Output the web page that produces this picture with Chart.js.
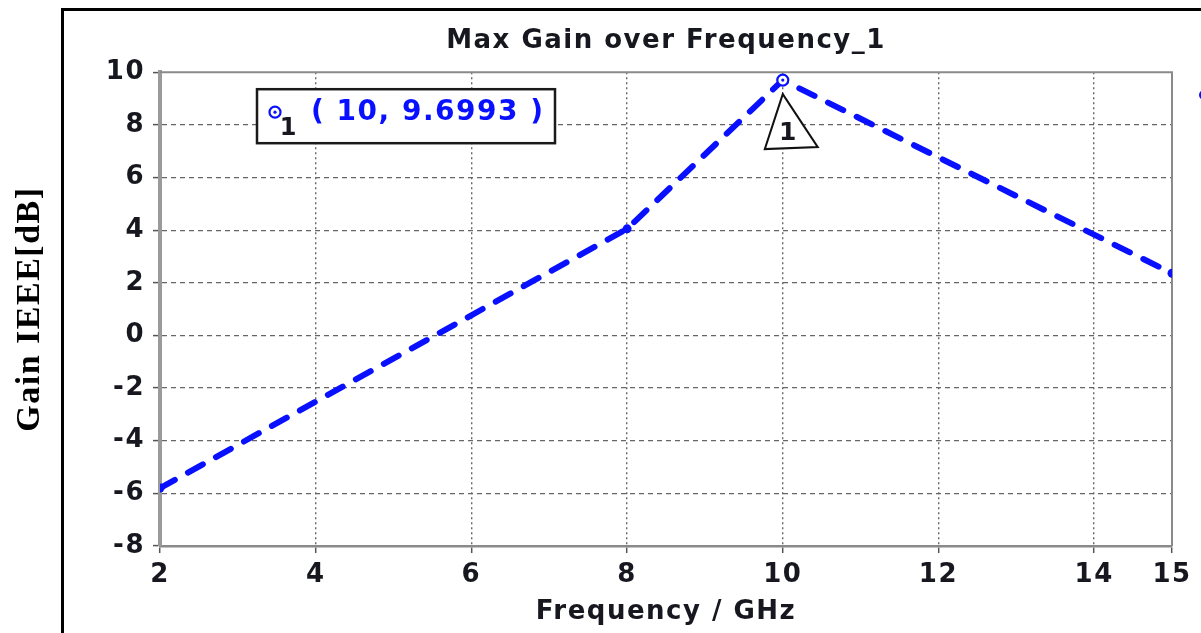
<!DOCTYPE html>
<html>
<head>
<meta charset="utf-8">
<script src="https://cdn.jsdelivr.net/npm/chart.js@4.4.1/dist/chart.umd.min.js"></script>
<style>
  html, body { margin: 0; padding: 0; background: #fff; overflow: hidden; }
  canvas { display: block; }
</style>
</head>
<body>
<canvas id="gainChart" width="1201" height="633"></canvas>
<script>
// Max gain vs. frequency
const frequencies = [2, 8, 10, 15];            // GHz
const gainDb = [-5.8, 4.05, 9.6993, 2.36];    // dB
const xTickValues = [2, 4, 6, 8, 10, 12, 14, 15];
const yTickMin = -8;
const yTickMax = 10;
const yTickStep = 2;
const markerIndex = 2;                          // marker "1" placed on the peak
const markerName = '1';

const UI_FONT = "'DejaVu Sans', Verdana, sans-serif";
const BLUE = 'rgb(8, 16, 255)';
const INK = '#17171f';
const TRACKING = '1.5px';                       // slightly wide lettering of the plot texts

function markerLabel() {
  return '( ' + frequencies[markerIndex] + ', ' + gainDb[markerIndex] + ' )';
}

function drawRingMarker(ctx, cx, cy) {
  ctx.save();
  ctx.fillStyle = '#fff';
  ctx.strokeStyle = BLUE;
  ctx.lineWidth = 2.2;
  ctx.beginPath();
  ctx.arc(cx, cy, 5.5, 0, Math.PI * 2);
  ctx.fill();
  ctx.stroke();
  ctx.fillStyle = BLUE;
  ctx.beginPath();
  ctx.arc(cx, cy, 1.6, 0, Math.PI * 2);
  ctx.fill();
  ctx.restore();
}

const decorations = {
  id: 'decorations',
  beforeLayout(chart) {
    chart.ctx.letterSpacing = TRACKING;
  },
  beforeDraw(chart) {
    const ctx = chart.ctx;
    ctx.letterSpacing = TRACKING;
    ctx.save();
    ctx.fillStyle = '#fff';
    ctx.fillRect(0, 0, chart.width, chart.height);
    // figure frame (left and top edges visible)
    ctx.strokeStyle = '#000';
    ctx.lineWidth = 3;
    ctx.beginPath();
    ctx.moveTo(62.5, chart.height + 5);
    ctx.lineTo(62.5, 9.5);
    ctx.lineTo(chart.width + 5, 9.5);
    ctx.stroke();
    ctx.restore();
  },
  beforeDatasetsDraw(chart) {
    const {ctx, chartArea: a} = chart;
    ctx.save();
    ctx.strokeStyle = '#8a8a8a';
    ctx.lineWidth = 2;
    ctx.beginPath();
    ctx.moveTo(a.left, a.top);
    ctx.lineTo(a.right, a.top);
    ctx.lineTo(a.right, a.bottom);
    ctx.stroke();
    ctx.restore();
  },
  afterDatasetsDraw(chart) {
    const {ctx, chartArea: a, scales: {x, y}} = chart;
    const px = x.getPixelForValue(frequencies[markerIndex]);
    const py = y.getPixelForValue(gainDb[markerIndex]);

    // peak marker
    drawRingMarker(ctx, px, py);

    // triangle flag under the marker
    ctx.save();
    ctx.letterSpacing = '0px';
    ctx.fillStyle = '#fff';
    ctx.strokeStyle = '#111';
    ctx.lineWidth = 2;
    ctx.beginPath();
    ctx.moveTo(px, py + 14);
    ctx.lineTo(px + 35, py + 67);
    ctx.lineTo(px - 18, py + 69);
    ctx.closePath();
    ctx.fill();
    ctx.stroke();
    ctx.fillStyle = INK;
    ctx.font = 'bold 25px ' + UI_FONT;
    ctx.textAlign = 'center';
    ctx.textBaseline = 'middle';
    ctx.fillText(markerName, px + 5, py + 53);
    ctx.restore();

    // marker readout box
    const bx = a.left + 97, by = a.top + 17, bw = 298, bh = 54;
    ctx.save();
    ctx.fillStyle = '#fff';
    ctx.fillRect(bx, by, bw, bh);
    ctx.strokeStyle = '#1a1a1a';
    ctx.lineWidth = 2.5;
    ctx.strokeRect(bx, by, bw, bh);
    drawRingMarker(ctx, bx + 18, by + 23);
    ctx.letterSpacing = '0px';
    ctx.fillStyle = INK;
    ctx.font = 'bold 24px ' + UI_FONT;
    ctx.textAlign = 'center';
    ctx.textBaseline = 'middle';
    ctx.fillText(markerName, bx + 31, by + 40);
    ctx.letterSpacing = TRACKING;
    ctx.fillStyle = BLUE;
    ctx.font = 'bold 28px ' + UI_FONT;
    ctx.textAlign = 'left';
    ctx.fillText(markerLabel(), bx + 54, by + 24);
    ctx.restore();

    // edge of the legend symbol at the right border
    ctx.save();
    ctx.fillStyle = BLUE;
    ctx.beginPath();
    ctx.arc(chart.width + 3, 95, 5, 0, Math.PI * 2);
    ctx.fill();
    ctx.restore();
  }
};

new Chart(document.getElementById('gainChart'), {
  type: 'line',
  data: {
    datasets: [{
      label: 'Max Gain',
      data: frequencies.map((f, i) => ({x: f, y: gainDb[i]})),
      borderColor: BLUE,
      backgroundColor: BLUE,
      borderWidth: 6,
      borderDash: [17, 15],
      borderCapStyle: 'round',
      tension: 0,
      pointRadius: frequencies.map((f, i) => (i === markerIndex ? 0 : 4.5)),
      pointBorderWidth: 0,
      pointBackgroundColor: BLUE
    }]
  },
  options: {
    responsive: false,
    animation: false,
    events: [],
    layout: { padding: { left: 0, right: 29, top: 0, bottom: 0 } },
    plugins: {
      legend: { display: false },
      tooltip: { enabled: false },
      title: {
        display: true,
        fullSize: false,
        text: 'Max Gain over Frequency_1',
        color: INK,
        font: { family: UI_FONT, size: 26, weight: 'bold', lineHeight: 1.2 },
        padding: { top: 26, bottom: 15 }
      }
    },
    scales: {
      x: {
        type: 'linear',
        min: 2,
        max: 15,
        afterFit(scale) { scale.height = 87; },
        afterBuildTicks(scale) { scale.ticks = xTickValues.map(v => ({value: v})); },
        ticks: {
          color: INK,
          font: { family: UI_FONT, size: 26, weight: 'bold' },
          padding: 7,
          maxRotation: 0,
          autoSkip: false
        },
        grid: {
          color: ctx => (ctx.tick && (ctx.tick.value === 2 || ctx.tick.value === 15) ? 'rgba(0,0,0,0)' : '#666'),
          lineWidth: 1.4,
          tickLength: 7,
          tickColor: '#555',
          tickWidth: 1.5
        },
        border: { display: true, color: '#8a8a8a', width: 2.5, dash: [2, 3] },
        title: {
          display: true,
          text: 'Frequency / GHz',
          color: INK,
          font: { family: UI_FONT, size: 26, weight: 'bold', lineHeight: 1.2 },
          padding: { top: 0, bottom: 5 }
        }
      },
      y: {
        type: 'linear',
        min: yTickMin,
        max: yTickMax,
        afterFit(scale) { scale.width = 160; },
        ticks: {
          stepSize: yTickStep,
          color: INK,
          font: { family: UI_FONT, size: 26, weight: 'bold' },
          padding: 8
        },
        grid: {
          color: ctx => (ctx.tick && (ctx.tick.value === yTickMax || ctx.tick.value === yTickMin) ? 'rgba(0,0,0,0)' : '#666'),
          lineWidth: 1.2,
          tickLength: 7,
          tickColor: '#555',
          tickWidth: 1.5
        },
        border: { display: true, color: '#9a9a9a', width: 4, dash: [5, 4] },
        title: {
          display: true,
          text: 'Gain IEEE[dB]',
          color: '#000',
          font: { family: "'Liberation Serif', 'Times New Roman', serif", size: 34, weight: 'bold', lineHeight: 1.2 },
          padding: { top: 10, bottom: 0 }
        }
      }
    }
  },
  plugins: [decorations]
});
</script>
</body>
</html>
